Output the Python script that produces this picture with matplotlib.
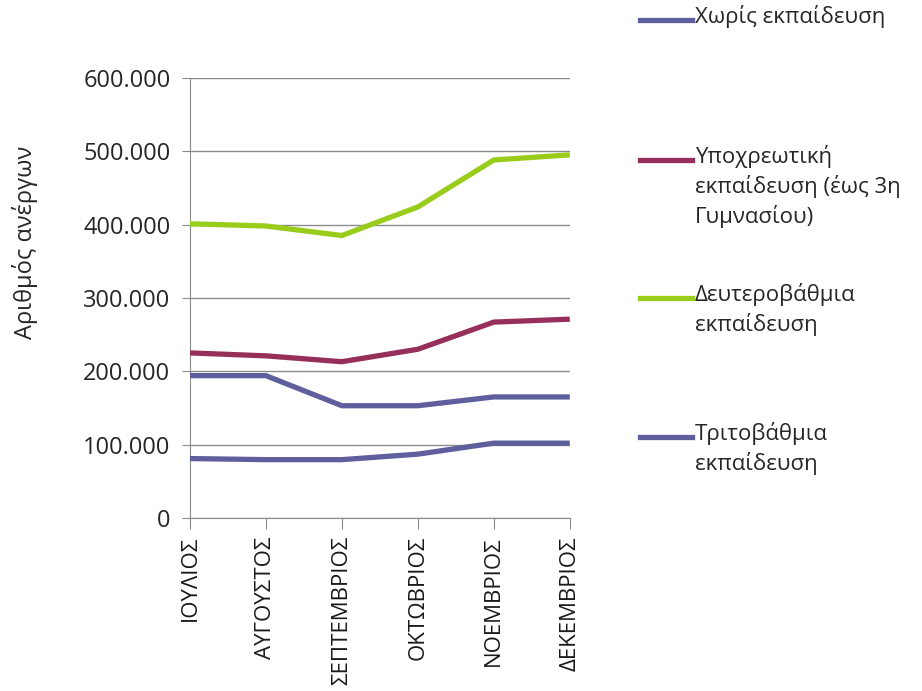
import matplotlib
matplotlib.use("Agg")
import matplotlib.pyplot as plt
from matplotlib.lines import Line2D
from matplotlib.ticker import FuncFormatter, MultipleLocator

plt.rcParams['font.family'] = ['Open Sans', 'DejaVu Sans']

months = ['ΙΟΥΛΙΟΣ', 'ΑΥΓΟΥΣΤΟΣ', 'ΣΕΠΤΕΜΒΡΙΟΣ', 'ΟΚΤΩΒΡΙΟΣ', 'ΝΟΕΜΒΡΙΟΣ', 'ΔΕΚΕΜΒΡΙΟΣ']

# ανεργοι ανα επιπεδο εκπαιδευσης
xoris = [81000, 79500, 79500, 87000, 102000, 102000]
ypoxreotiki = [225000, 221000, 213000, 230000, 267000, 271000]
deftero = [401000, 398000, 385000, 424000, 488000, 495000]
trito = [194000, 194000, 153000, 153000, 165000, 165000]

labels = ['Χωρίς εκπαίδευση',
          'Υποχρεωτική\nεκπαίδευση (έως 3η\nΓυμνασίου)',
          'Δευτεροβάθμια\nεκπαίδευση',
          'Τριτοβάθμια\nεκπαίδευση']
colors = ['#5f5f9e', '#96305b', '#9acc1c', '#5f5f9e']
series = [xoris, ypoxreotiki, deftero, trito]

fig = plt.figure(figsize=(9.22, 6.91), dpi=100)
ax = fig.add_axes([0.206, 0.2504, 0.412, 0.637])

x = range(len(months))
for s, c in zip(series, colors):
    ax.plot(x, s, color=c, linewidth=3.8, solid_capstyle='butt', zorder=3)

ax.set_xlim(0, len(months) - 1)
ax.set_ylim(0, 600000)
ax.yaxis.set_major_locator(MultipleLocator(100000))
ax.yaxis.set_major_formatter(FuncFormatter(lambda v, p: f'{int(v):,}'.replace(',', '.')))
ax.grid(axis='y', color='#8c8c8c', linewidth=1)
ax.set_axisbelow(True)

ax.set_xticks(list(x))
ax.set_xticklabels(months, rotation=90, fontsize=16, color='#1a1a1a')
ax.tick_params(axis='y', labelsize=17, colors='#8c8c8c', labelcolor='#262626', length=6, pad=8)
ax.tick_params(axis='x', colors='#8c8c8c', labelcolor='#1a1a1a', length=8, pad=5)

for sp in ['top', 'right']:
    ax.spines[sp].set_visible(False)
ax.spines['left'].set_color('#8c8c8c')
ax.spines['bottom'].set_color('#8c8c8c')

ax.set_ylabel('Αριθμός ανέργων', fontsize=17, color='#262626')
ax.yaxis.set_label_coords(-0.40, 0.627)

# υπομνημα δεξια
legend_y = [20, 160, 298, 437]
for lab, c, yy in zip(labels, colors, legend_y):
    fy = 1 - yy / 691
    fig.add_artist(Line2D([640 / 922, 692 / 922], [fy, fy], color=c, linewidth=3.8,
                          transform=fig.transFigure))
    fig.text(695 / 922, fy + 15 / 691, lab, fontsize=16, color='#262626',
             va='top', ha='left', linespacing=1.38)

fig.savefig('out.png', dpi=100)
